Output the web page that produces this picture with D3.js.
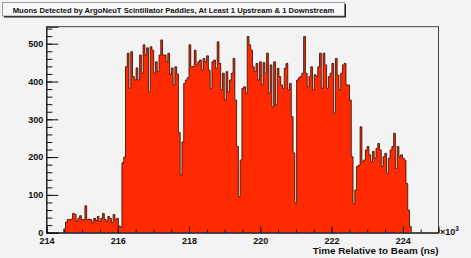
<!DOCTYPE html>
<html lang="en">
	<head>
		<meta charset="UTF-8" />
		<script src="https://d3js.org/d3.v7.min.js"></script>
		<title>Muons Detected by ArgoNeuT Scintillator Paddles</title>
		<style>
			body { margin: 0; background: #f3f3f3; }
			text { font-family: "Liberation Sans", Arial, sans-serif; fill: #111; }
		</style>
	</head>
	<body>
		<script>
			var w = 471;
			var h = 258;

			// histogram: first bin edge and width in ns, then the counts
			var binStart = 214484;
			var binWidth = 49.5;
			var counts = [
				10, 28, 35, 34, 36, 51, 49, 30, 38, 45, 35, 34, 71, 34, 36, 34, 26, 38, 32, 43,
				30, 38, 51, 35, 30, 43, 38, 27, 48, 34, 38, 18, 15, 185, 200,
				439, 475, 382, 479, 413, 404, 436, 404, 470, 422, 497, 470, 489, 373, 492, 483,
				422, 452, 426, 470, 510, 470, 470, 452, 475, 420, 436, 391, 439, 420, 265, 153,
				240, 395, 404, 410, 497, 439, 440,
				483, 444, 452, 457, 430, 461, 452, 468, 430, 382, 452, 457, 435, 505, 448, 378,
				422, 351, 426, 373, 404, 422, 461, 351, 228, 95, 192, 382, 386, 369, 519, 497,
				483, 439, 426, 448, 404, 452, 391, 450,
				422, 475, 369, 444, 333, 452, 338, 435, 413, 391, 382, 435, 448, 378, 395, 307,
				211, 79, 404, 410, 413, 422, 519, 422, 386, 413, 439, 378, 418, 413, 439, 475,
				382, 475, 444, 382, 413, 422, 448, 316, 461,
				417, 378, 422, 444, 448, 391, 391, 351, 201, 76, 113, 175, 179, 280, 188, 192,
				219, 228, 206, 188, 215, 197, 223, 236, 219, 175, 201, 210, 157, 197, 219, 228,
				263, 170, 228, 201, 206, 197, 192, 130, 60, 16
			];

			var xMajor = [214000, 216000, 218000, 220000, 222000, 224000];
			var xLabels = ["214", "216", "218", "220", "222", "224"];
			var yMajor = [0, 100, 200, 300, 400, 500];
			var titleText = "Muons Detected by ArgoNeuT Scintillator Paddles, At Least 1 Upstream & 1 Downstream";
			var xTitle = "Time Relative to Beam (ns)";

			var frameL = 46.5, frameR = 438.5, frameT = 26.7, frameB = 232.7;

			var xScale = d3.scaleLinear().domain([214000, 225000]).range([frameL, frameR]);
			var yScale = d3.scaleLinear().domain([0, 545]).range([frameB, frameT]);

			var svg = d3.select("body").append("svg")
				.attr("width", w)
				.attr("height", h);

			svg.append("rect")
				.attr("width", w)
				.attr("height", h)
				.attr("fill", "#f3f3f3");

			var points = [{ t: binStart, c: 0 }];
			counts.forEach(function (c, i) {
				points.push({ t: binStart + i * binWidth, c: c });
			});
			points.push({ t: binStart + counts.length * binWidth, c: 0 });

			var area = d3.area()
				.curve(d3.curveStepAfter)
				.x(function (d) { return xScale(d.t); })
				.y0(yScale(0))
				.y1(function (d) { return yScale(d.c); });

			var line = d3.line()
				.curve(d3.curveStepAfter)
				.x(function (d) { return xScale(d.t); })
				.y(function (d) { return yScale(d.c); });

			svg.append("path")
				.attr("d", area(points))
				.attr("fill", "#ff2a00");

			svg.append("path")
				.attr("d", line(points))
				.attr("fill", "none")
				.attr("stroke", "#2b0c04")
				.attr("stroke-width", 0.8);

			// frame
			svg.append("rect")
				.attr("x", frameL)
				.attr("y", frameT)
				.attr("width", frameR - frameL)
				.attr("height", frameB - frameT)
				.attr("fill", "none")
				.attr("stroke", "#444")
				.attr("stroke-width", 1);

			// x axis, ticks pointing into the frame
			var xMinor = d3.range(214000, 225001, 500);
			var xMinorAxis = d3.axisBottom(xScale).tickValues(xMinor).tickSize(-3.1).tickFormat("");
			var xAxis = d3.axisBottom(xScale)
				.tickValues(xMajor)
				.tickSize(-6.2)
				.tickPadding(4.6)
				.tickFormat(function (d, i) { return xLabels[i]; });

			svg.append("g").attr("transform", "translate(0," + frameB + ")").call(xMinorAxis)
				.call(function (g) { g.select(".domain").remove(); });
			var gx = svg.append("g").attr("transform", "translate(0," + frameB + ")").call(xAxis);
			gx.select(".domain").attr("stroke", "#111");
			gx.selectAll("text").attr("font-size", "9px").attr("font-weight", "bold").attr("fill", "#111");

			// y axis
			var yMinor = d3.range(0, 541, 20);
			var yMinorAxis = d3.axisLeft(yScale).tickValues(yMinor).tickSize(-5.9).tickFormat("");
			var yAxis = d3.axisLeft(yScale).tickValues(yMajor).tickSize(-11.8).tickPadding(3.2);

			svg.append("g").attr("transform", "translate(" + frameL + ",0)").call(yMinorAxis)
				.call(function (g) { g.select(".domain").remove(); });
			var gy = svg.append("g").attr("transform", "translate(" + frameL + ",0)").call(yAxis);
			gy.select(".domain").attr("stroke", "#111");
			gy.selectAll("text").attr("font-size", "9px").attr("font-weight", "bold").attr("fill", "#111");
			svg.selectAll(".tick line").attr("stroke", "#111");

			// exponent
			var expo = svg.append("text")
				.attr("x", 440)
				.attr("y", 235)
				.attr("font-size", "9px")
				.attr("font-weight", "bold")
				.attr("fill", "#333");
			expo.append("tspan").text("\u00d710");
			expo.append("tspan").attr("dy", -4).attr("font-size", "6.5px").text("3");

			// axis title, right aligned to the frame
			var xt = svg.append("text")
				.attr("x", frameR)
				.attr("y", 253.5)
				.attr("text-anchor", "end")
				.attr("font-size", "10px")
				.attr("font-weight", "bold")
				.text(xTitle);
			var xtLen = xt.node().getComputedTextLength();
			xt.attr("font-size", (10 * 126 / xtLen).toFixed(2) + "px");

			// title box with shadow
			svg.append("rect")
				.attr("x", 4)
				.attr("y", 4)
				.attr("width", 342)
				.attr("height", 13.5)
				.attr("fill", "#222");
			svg.append("rect")
				.attr("x", 2.5)
				.attr("y", 2.5)
				.attr("width", 342)
				.attr("height", 13.5)
				.attr("fill", "#f8f8f8")
				.attr("stroke", "#666")
				.attr("stroke-width", 0.6);
			var tt = svg.append("text")
				.attr("x", 12.7)
				.attr("y", 12.8)
				.attr("font-size", "8px")
				.attr("font-weight", "bold")
				.text(titleText);
			var ttLen = tt.node().getComputedTextLength();
			tt.attr("font-size", (8 * 322 / ttLen).toFixed(2) + "px");
		</script>
	</body>
</html>
